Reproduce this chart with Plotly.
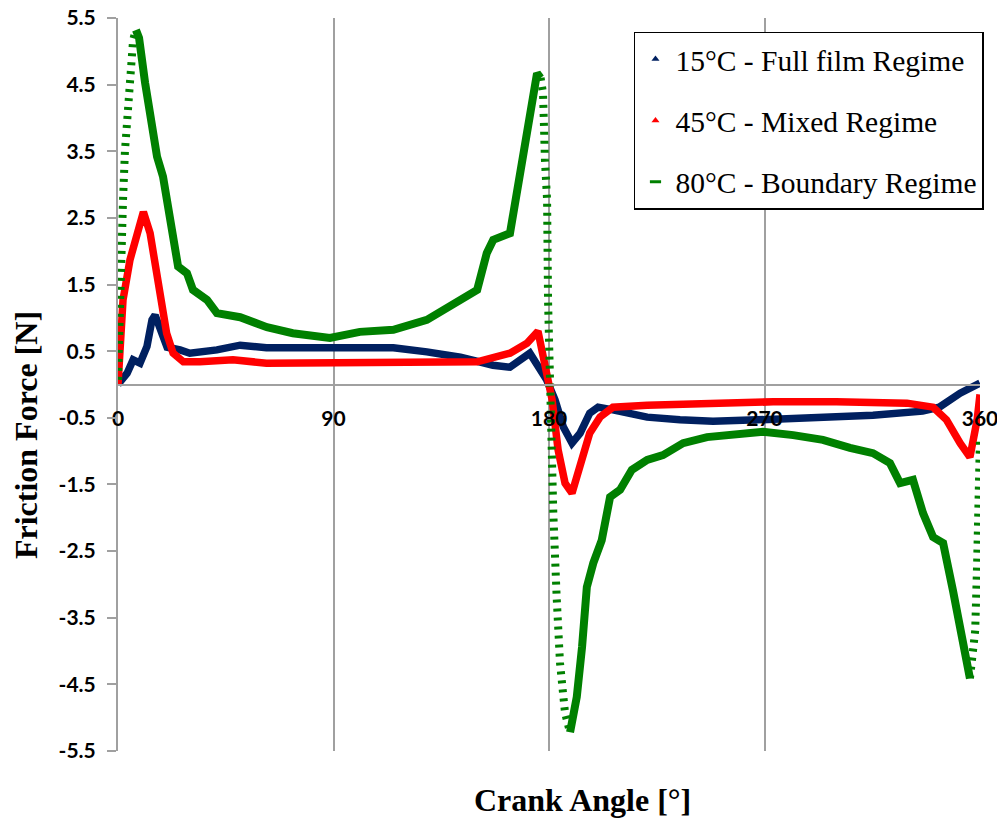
import plotly.graph_objects as go

# ---- data ----
blue_x = [0, 3.8, 6.3, 9.2, 12.1, 14.2, 15.5, 17.5, 20.5, 25.9, 30, 41.3, 51, 62, 76, 92.7, 115, 129, 143,
          156.6, 163.7, 172, 176, 179, 182.5, 186, 189.6, 193, 197, 200.5, 206.7, 221, 234.7, 248.5, 267,
          288, 315.3, 336, 343, 351.7, 360]
blue_y = [0, 0.17, 0.37, 0.32, 0.57, 0.97, 1.04, 0.86, 0.56, 0.52, 0.47, 0.52, 0.59, 0.55, 0.55, 0.56, 0.55,
          0.49, 0.41, 0.29, 0.26, 0.47, 0.26, 0.07, -0.23, -0.64, -0.88, -0.73, -0.43, -0.34, -0.38, -0.49,
          -0.53, -0.55, -0.53, -0.50, -0.46, -0.40, -0.34, -0.13, 0.02]

red_x = [0, 2.1, 5, 7.9, 10.6, 13.4, 15.5, 17.5, 20.3, 23, 27.3, 34.2, 48, 62, 90, 120, 150, 163.7, 170.8,
         175.4, 177.5, 179.3, 180.6, 181.3, 183.8, 186.7, 189.6, 193, 197, 201.3, 206.7, 221, 250, 273.6,
         300, 329.5, 340.4, 346, 351.7, 355.8, 358.8, 360]
red_y = [0, 1.27, 1.87, 2.27, 2.59, 2.27, 1.77, 1.27, 0.77, 0.47, 0.34, 0.34, 0.37, 0.32, 0.33, 0.32, 0.34,
         0.47, 0.62, 0.80, 0.40, 0.20, -0.10, -0.23, -0.98, -1.48, -1.63, -1.24, -0.73, -0.49, -0.34, -0.31,
         -0.28, -0.26, -0.26, -0.28, -0.34, -0.53, -0.88, -1.09, -0.53, -0.15]

# 80°C series, split where the sparse (steep) parts show as separate dashes
green_rise_x = [0, 0.4, 0.8, 1.7, 2.1, 2.9, 4.2, 5, 6.3, 7.5]
green_rise_y = [0.07, 0.77, 1.5, 2.27, 2.77, 3.5, 4.27, 4.77, 5.17, 5.32]
green_left_x = [7.5, 8.8, 11.3, 14.2, 16.3, 18.8, 20.5, 22.5, 25.1, 28.8, 31.3, 37.2, 41.3, 51, 62.2, 73, 88.5,
                101, 115, 129, 136, 143, 150, 154, 156.7, 163.7, 169, 172, 175, 176.5]
green_left_y = [5.32, 5.2, 4.53, 3.78, 3.42, 3.12, 2.77, 2.27, 1.77, 1.67, 1.42, 1.27, 1.07, 1.01, 0.86, 0.77,
                0.70, 0.79, 0.82, 0.97, 1.12, 1.27, 1.42, 1.97, 2.17, 2.27, 3.37, 4.12, 4.67, 4.6]
green_drop_x = [176.5, 177.5, 178.3, 179.2, 179.6, 180.4, 181.3, 181.8, 183.2, 184.6, 186.7, 188.8]
green_drop_y = [4.6, 4.38, 3.37, 2.77, 1.27, 0.02, -1.63, -1.93, -3.19, -4.18, -4.93, -5.22]
green_right_x = [188.8, 191.6, 193.8, 195.8, 198.5, 202, 205.5, 209.7, 214.6, 221, 227.6, 236, 246, 257, 269.4,
                 282, 294.4, 305.7, 315.3, 322.4, 326.6, 332, 336.2, 340.4, 344.6, 348.7, 352.5, 355.8]
green_right_y = [-5.22, -4.69, -3.94, -3.04, -2.68, -2.34, -1.69, -1.58, -1.28, -1.13, -1.06, -0.88, -0.79,
                 -0.76, -0.71, -0.76, -0.83, -0.95, -1.03, -1.18, -1.48, -1.43, -1.93, -2.29, -2.38, -3.09,
                 -3.88, -4.41]
green_end_x = [355.8, 358, 358.8, 359.2, 360]
green_end_y = [-4.41, -3.69, -2.68, -1.69, -0.79]

series_names = ["15°C - Full film Regime", "45°C - Mixed Regime", "80°C - Boundary Regime"]
series_colors = ["#002060", "#FF0000", "#008000"]

x_ticks = [0, 90, 180, 270, 360]
y_ticks = [-5.5, -4.5, -3.5, -2.5, -1.5, -0.5, 0.5, 1.5, 2.5, 3.5, 4.5, 5.5]
y_ticktext = ["-5.5", "-4.5", "-3.5", "-2.5", "-1.5", "-0.5", "0.5", "1.5", "2.5", "3.5", "4.5", "5.5"]

GRAY = "#A0A0A0"

fig = go.Figure()

fig.add_trace(go.Scatter(x=blue_x, y=blue_y, mode="lines", line=dict(color=series_colors[0], width=7.5),
                         showlegend=False, hoverinfo="skip"))
fig.add_trace(go.Scatter(x=red_x, y=red_y, mode="lines", line=dict(color=series_colors[1], width=7.5),
                         showlegend=False, hoverinfo="skip"))

green_solid = [(green_left_x, green_left_y), (green_right_x, green_right_y)]
green_sparse = [(green_rise_x, green_rise_y), (green_drop_x, green_drop_y), (green_end_x, green_end_y)]
for gx, gy in green_solid:
    fig.add_trace(go.Scatter(x=gx, y=gy, mode="lines", line=dict(color=series_colors[2], width=8),
                             showlegend=False, hoverinfo="skip"))
for gx, gy in green_sparse:
    fig.add_trace(go.Scatter(x=gx, y=gy, mode="lines",
                             line=dict(color=series_colors[2], width=8, dash="3px,6px"),
                             showlegend=False, hoverinfo="skip"))

# legend-only entries (marker symbols as in the reference)
legend_symbols = ["triangle-up", "triangle-up", "line-ew"]
for i, (name, col, sym) in enumerate(zip(series_names, series_colors, legend_symbols)):
    fig.add_trace(go.Scatter(
        x=[None], y=[None], mode="markers", name=name, legendgroup=f"g{i}",
        marker=dict(symbol=sym, size=7 if sym != "line-ew" else 8, color=col,
                    line=dict(color=col, width=3 if sym == "line-ew" else 0)),
    ))

tick_font = dict(family="Lato", size=21, color="black", weight="bold")
title_font = dict(family="Liberation Serif", size=32, color="black", weight="bold")

fig.update_layout(
    width=997, height=812,
    margin=dict(l=110, r=25, t=10, b=69, autoexpand=False),
    paper_bgcolor="white", plot_bgcolor="white",
    xaxis=dict(
        range=[0, 360], tickvals=x_ticks, ticktext=[str(v) for v in x_ticks],
        showgrid=True, gridcolor=GRAY, gridwidth=2,
        showline=True, linecolor=GRAY, linewidth=2,
        anchor="free", position=0.5, automargin=False,
        ticks="outside", ticklen=15, tickcolor="rgba(0,0,0,0)",
        tickfont=tick_font, zeroline=False, ticklabeloverflow="allow",
    ),
    yaxis=dict(
        range=[-5.5, 5.5], tickvals=y_ticks, ticktext=y_ticktext,
        showgrid=False, zeroline=False, automargin=False,
        showline=True, linecolor=GRAY, linewidth=2,
        ticks="outside", ticklen=9, tickcolor=GRAY, tickwidth=2,
        tickfont=tick_font, ticklabelstandoff=7, ticklabeloverflow="allow",
    ),
    legend=dict(
        x=0.5986, y=0.981, xanchor="left", yanchor="top",
        bgcolor="white", bordercolor="black", borderwidth=1.5,
        font=dict(family="Liberation Serif", size=29.5, color="black"),
        traceorder="grouped", tracegroupgap=20,
    ),
    annotations=[
        dict(text="Crank Angle [°]", x=0.5394, y=-0.0668, xref="paper", yref="paper",
             showarrow=False, font=title_font, xanchor="center", yanchor="middle"),
        dict(text="Friction Force [N]", x=-0.1067, y=0.431, xref="paper", yref="paper",
             showarrow=False, font=title_font, textangle=-90, xanchor="center", yanchor="middle"),
    ],
)

fig.write_html("out.html")
